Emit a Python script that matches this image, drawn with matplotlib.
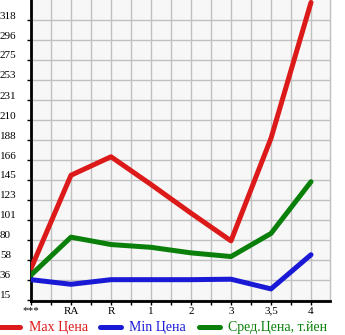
import matplotlib
matplotlib.use("Agg")
import matplotlib.pyplot as plt
from matplotlib.transforms import blended_transform_factory, ScaledTranslation
import numpy as np

categories = ["***", "RA", "R", "1", "2", "3", "3,5", "4"]
max_price = [49, 150, 170, 140, 109, 79, 190, 337]
min_price = [37, 32, 37, 37, 37, 37.5, 27, 64]
avg_price = [42, 83, 75, 72, 66, 62, 87, 143]
y_ticks = [15, 36, 58, 80, 101, 123, 145, 166, 188, 210, 231, 253, 275, 296, 318]
legend_labels = ["Max Цена", "Min Цена", "Сред.Цена, т.йен"]

W, H = 345, 335
fig = plt.figure(figsize=(W / 100, H / 100), dpi=100)
ax = fig.add_axes([31 / W, 1 - 301 / H, (330 - 31) / W, 301 / H])
ax.set_facecolor("#f7f7f7")

step = (318 - 15) / 14.0
ytick_pos = [15 + i * step for i in range(len(y_ticks))]
ax.set_ylim(15 - step * 0.05, 318 + step)
ax.set_xlim(0, 7.475)

x = np.arange(len(categories))
font = "Liberation Serif"
red, blue, green = "#dd1a1a", "#1a1ad6", "#0a800a"
for vals, c in [(max_price, red), (min_price, blue), (avg_price, green)]:
    ax.plot(x, vals, color=c, lw=3.6, solid_capstyle="round", solid_joinstyle="round", zorder=3)

ax.set_yticks(ytick_pos)
ax.set_yticklabels([])
ax.set_xticks(np.arange(0, 7.5, 0.5), minor=False)
ax.set_xticklabels([])
ax.grid(True, color="#c0c0c0", lw=1.0, zorder=0)
ax.set_axisbelow(True)
ax.tick_params(axis="both", length=3, width=1, color="black", direction="out")

ax.spines["top"].set_visible(False)
ax.spines["right"].set_color("#c0c0c0")
ax.spines["right"].set_linewidth(1)
ax.spines["left"].set_linewidth(2)
ax.spines["bottom"].set_linewidth(2)

# y labels, left aligned at figure edge
tr = blended_transform_factory(fig.transFigure, ax.transData) + ScaledTranslation(0, 4 / 100, fig.dpi_scale_trans)
for p, lab in zip(ytick_pos, y_ticks):
    ax.text(0.0, p, str(lab), transform=tr, ha="left", va="center", fontsize=8, family=font, color="black")

# x labels
trx = blended_transform_factory(ax.transData, fig.transFigure)
for i, lab in enumerate(categories):
    ax.text(i, 1 - 311 / H, lab, transform=trx, ha="center", va="center", fontsize=8, family=font, color="black")

# legend
ly = 1 - 327 / H
items = [(0, 20, 29, red), (100, 121, 129, blue), (199, 220, 228, green)]
for (x0, x1, tx, c), lab in zip(items, legend_labels):
    fig.add_artist(plt.Line2D([x0 / W, x1 / W], [ly, ly], color=c, lw=3.6, solid_capstyle="round", transform=fig.transFigure))
    fig.text(tx / W, ly, lab, ha="left", va="center", fontsize=10, family=font, color=c)

fig.savefig("out.png", dpi=100)
